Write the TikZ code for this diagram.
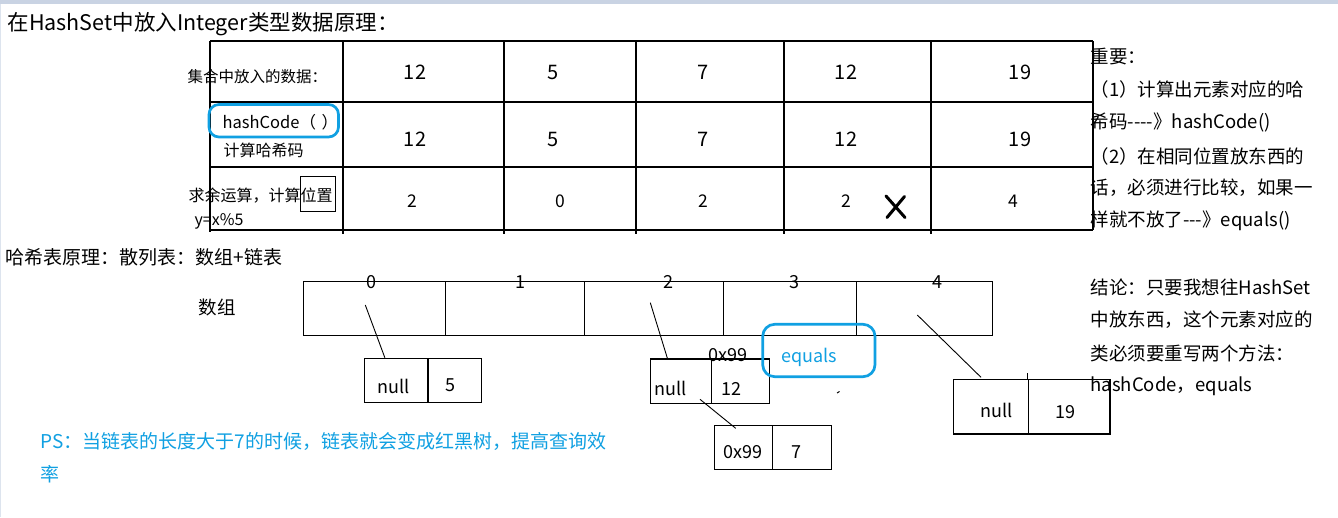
\documentclass[tikz,border=0pt]{standalone}
\usepackage{fontspec}
\setmainfont{Noto Sans CJK SC}
\usetikzlibrary{calc}
\newcommand\myfs[1]{\fontsize{#1}{#1}\selectfont}
\definecolor{hlblue}{RGB}{16,160,226}
\definecolor{topbar}{RGB}{201,211,227}
\definecolor{edgegray}{RGB}{221,228,238}
\begin{document}
\begin{tikzpicture}[x=1pt,y=-1pt,line width=1.2pt,
  txt/.style={inner sep=0pt,font=\myfs{18}},
  lt/.style={txt,anchor=west},
  numa/.style={inner sep=0pt,font=\myfs{20}},
  numb/.style={inner sep=0pt,font=\myfs{17.5}},
  cellbox/.style 2 args={draw,inner sep=0pt,minimum width=#1,minimum height=#2},
  hl/.style={draw=hlblue,line width=2.7pt,rounded corners=11pt}]
\useasboundingbox (0,0) rectangle (1338,517);
\fill[white] (0,0) rectangle (1338,517);
\fill[topbar] (0,0) rectangle (1338,3.5);
\draw[edgegray,line width=1pt] (0.5,3.5) -- (0.5,517);

% title
\node[lt,font=\myfs{21.5}] (title) at (7,24) {在HashSet中放入Integer类型数据原理：};

% table grid
\draw (210,41) -- (1093,41);
\draw (209,102) -- (1093,102);
\draw (210,167) -- (1093,167);
\draw (210,230) -- (1093,230);
\foreach \x/\b in {210/232,343/234,504/234,636/234,784/234,931/234,1093/230}
  \draw (\x,41) -- (\x,\b);

% row labels
\node[lt,font=\myfs{15.5}] (lab1) at (187,77) {集合中放入的数据：};
\node[lt,font=\myfs{16.5}] (lab2) at (222,122.5) {hashCode（\,\,）};
\draw[hl,rounded corners=10pt] (209,104.5) rectangle (338.5,137);
\node[lt,font=\myfs{16}] (lab3) at (223,150) {计算哈希码};
\node[lt,font=\myfs{16}] (lab4) at (188,196) {求余运算，计算位置};
\draw[line width=1pt] (300.7,176) rectangle (335.3,211.3);
\node[lt,font=\myfs{16}] (lab5) at (194,221) {y=x\%5};

% table numbers
\foreach \x/\v [count=\i] in {415/12,553/5,703/7,846/12,1020/19}{
  \node[numa] (ra\i) at (\x,72) {\v};
  \node[numa] (rb\i) at (\x,139.5) {\v};
}
\foreach \x/\v [count=\i] in {412/2,560/0,703/2,846/2,1013/4}
  \node[numb] (rc\i) at (\x,201.5) {\v};
\draw[line width=3pt,line cap=round] (886,196) -- (905,217.5);
\draw[line width=3pt,line cap=round] (904.5,196.5) -- (887,217.5);

% right notes
\foreach \y/\t [count=\i] in {57/重要：,89.5/（1）计算出元素对应的哈,122/{希码-{}-{}-{}-》hashCode()},156/（2）在相同位置放东西的,188/{话，必须进行比较，如果一},221/{样就不放了-{}-{}-》equals()},287/结论：只要我想往HashSet,319.5/{中放东西，这个元素对应的},353/类必须要重写两个方法：,386/{hashCode，equals}}
  \node[lt,font=\myfs{18.5}] (note\i) at (1090,\y) {\t};

% hash table section
\node[lt,font=\myfs{19}] (sec) at (5,257) {哈希表原理：散列表：数组+链表};
\node[lt,font=\myfs{18.5}] (arrlab) at (198,307) {数组};

% array
\foreach \l/\r [count=\i from 0] in {303.3/445.3,445.3/584.3,584.3/723.3,723.3/856.7,856.7/992.3}
  \node[cellbox={\r pt-\l pt}{54pt}] (a\i) at ({(\l+\r)/2},308.3) {};
\foreach \x [count=\i from 0] in {371,520,668,794,937}
  \node[txt] (idx\i) at (\x,281.7) {\i};

% list nodes
\node[cellbox={63.7pt}{44pt}] (L0a) at (396.2,380.3) {};
\node[cellbox={53.3pt}{44pt}] (L0b) at (454.7,380.3) {};
\node[txt] (t0a) at (394,386.5) {null};
\node[txt] (t0b) at (450.7,385) {5};

\node[cellbox={61pt}{44.3pt}] (L2a) at (680.8,381.2) {};
\node[cellbox={58pt}{44.3pt}] (L2b) at (740.3,381.2) {};
\node[txt] (t2a) at (671,388) {null};
\node[txt] (t2b) at (731.7,389.3) {12};
\node[txt] (h2) at (727.7,355) {0x99};

\node[cellbox={58pt}{44pt}] (L3a) at (743.3,447.3) {};
\node[cellbox={59.4pt}{44pt}] (L3b) at (802,447.3) {};
\node[txt] (t3a) at (743.3,452.3) {0x99};
\node[txt] (t3b) at (796,452) {7};

\node[cellbox={75pt}{54.7pt}] (L4a) at (990.8,406.7) {};
\node[cellbox={81.7pt}{54.7pt}] (L4b) at (1069.2,406.7) {};
\draw (L4b.north west) -- ++(0,-5.5);
\node[txt] (t4a) at (996.7,410) {null};
\node[txt] (t4b) at (1065,411.7) {19};

% equals bubble
\draw[hl,rounded corners=12pt] (762.7,324.3) rectangle (875,376.7);
\node[txt,text=hlblue] (eq) at (809,357.7) {equals};
\draw[line width=1pt] (837,393) -- (839.5,391.5);

% connectors
\coordinate (c0) at (365.3,305);
\coordinate (c2) at (650.3,302.7);
\coordinate (c4) at (917.3,315);
\coordinate (c4e) at (981,377.3);
\coordinate (c3s) at (700,399.3);
\coordinate (c3e) at (735.7,428.3);
\draw[line width=0.9pt] (c0) -- ($(L0a.north west)!0.325!(L0a.north east)$);
\draw[line width=0.9pt] (c2) -- ($(L2a.north west)!0.285!(L2a.north east)$);
\draw[line width=0.9pt] (c3s) -- (c3e);
\draw[line width=0.9pt] (c4) -- (c4e);

% PS note
\node[lt,font=\myfs{19},text=hlblue] (ps1) at (40,441) {PS：当链表的长度大于7的时候，链表就会变成红黑树，提高查询效};
\node[lt,font=\myfs{19},text=hlblue] (ps2) at (40,474) {率};
\end{tikzpicture}
\end{document}
